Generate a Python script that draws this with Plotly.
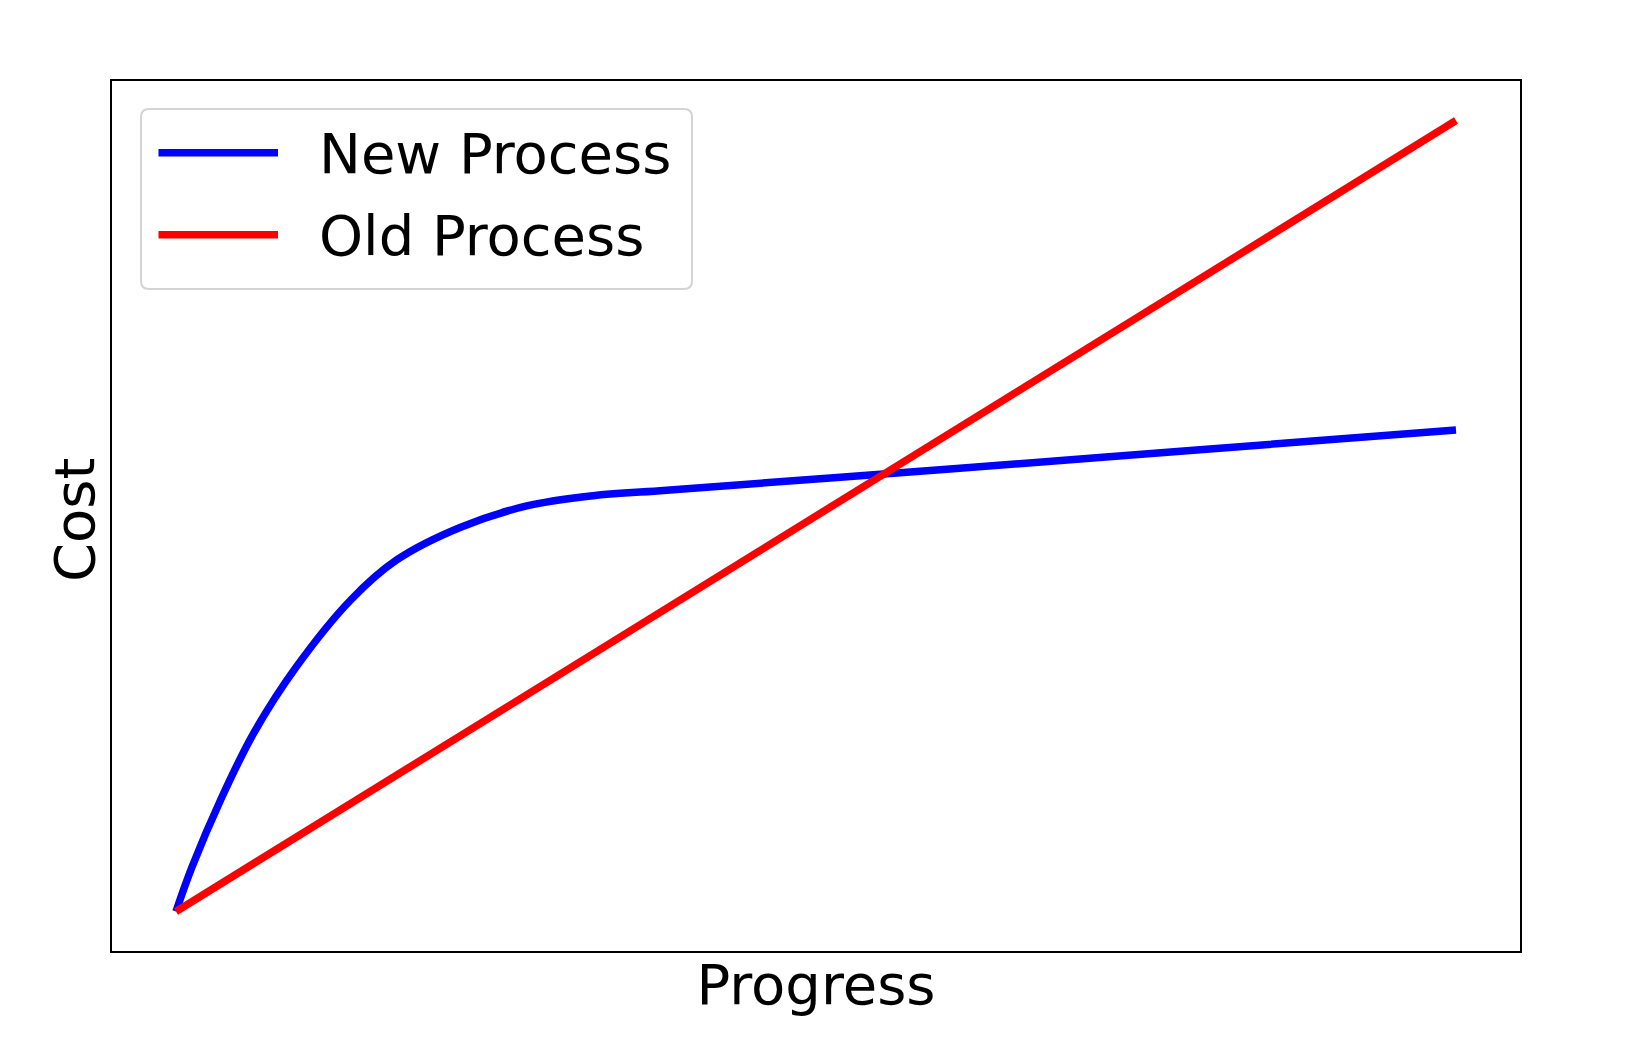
import plotly.graph_objects as go

# ---- data ----
progress_old = [0, 10]
cost_old = [0, 10]

progress_new = [0, 0.126, 0.350, 0.606, 0.941, 1.365, 1.724, 2.219, 2.740, 3.260,
                3.781, 6.047, 8.0, 10]
cost_new = [0, 0.566, 1.416, 2.252, 3.095, 3.938, 4.444, 4.855, 5.127, 5.257,
            5.320, 5.594, 5.838, 6.087]

series_names = ["New Process", "Old Process"]
series_colors = ["#0000ff", "#ff0000"]
x_title = "Progress"
y_title = "Cost"

# ---- layout constants (screen pixels; page body has an 8px margin) ----
OFF = 8
W, H = 1625 - OFF, 1050 - OFF
L, R, T, B = 112, 1520, 81, 951
FONT = "DejaVu Sans"
FS = 56
LW = 7.5


def pxx(x):
    return (x - L) / (R - L)


def pxy(y):
    return (B - y) / (B - T)


fig = go.Figure()
fig.add_trace(go.Scatter(x=progress_new, y=cost_new, mode="lines", name=series_names[0],
                         line=dict(color=series_colors[0], width=LW, shape="spline",
                                   smoothing=1.0, simplify=False),
                         showlegend=False))
fig.add_trace(go.Scatter(x=progress_old, y=cost_old, mode="lines", name=series_names[1],
                         line=dict(color=series_colors[1], width=LW, simplify=False),
                         showlegend=False))

# ---- custom legend (matplotlib style) ----
bx0, bx1, by0, by1, rad = 141, 692, 109, 289, 8


def P(x, y):
    return f"{pxx(x):.6f},{pxy(y):.6f}"


path = (f"M {P(bx0 + rad, by0)} L {P(bx1 - rad, by0)} Q {P(bx1, by0)} {P(bx1, by0 + rad)} "
        f"L {P(bx1, by1 - rad)} Q {P(bx1, by1)} {P(bx1 - rad, by1)} "
        f"L {P(bx0 + rad, by1)} Q {P(bx0, by1)} {P(bx0, by1 - rad)} "
        f"L {P(bx0, by0 + rad)} Q {P(bx0, by0)} {P(bx0 + rad, by0)} Z")
shapes = [dict(type="path", xref="paper", yref="paper", path=path,
               line=dict(color="#d4d4d4", width=2), fillcolor="rgba(255,255,255,0.8)", layer="above")]
annotations = []
row_y = [152.7, 234.7]
for name, col, yy in zip(series_names, series_colors, row_y):
    shapes.append(dict(type="line", xref="paper", yref="paper",
                       x0=pxx(158.5), x1=pxx(278), y0=pxy(yy), y1=pxy(yy),
                       line=dict(color=col, width=LW), layer="above"))
    annotations.append(dict(xref="paper", yref="paper", x=pxx(317), y=pxy(yy + 1),
                            xanchor="left", yanchor="middle", showarrow=False, text=name,
                            font=dict(family=FONT, size=FS, color="black")))

# y-axis title placed as a rotated annotation for exact positioning
annotations.append(dict(xref="paper", yref="paper", x=pxx(74), y=pxy(520),
                        xanchor="center", yanchor="middle", showarrow=False, text=y_title,
                        textangle=-90, font=dict(family=FONT, size=FS, color="black")))

fig.update_layout(
    width=W, height=H,
    margin=dict(l=L - OFF, r=W - (R - OFF), t=T - OFF, b=H - (B - OFF), pad=0),
    paper_bgcolor="white", plot_bgcolor="white",
    font=dict(family=FONT, size=FS, color="black"),
    shapes=shapes, annotations=annotations,
    showlegend=False,
)
fig.update_xaxes(range=[-0.5, 10.5], showgrid=False, zeroline=False, showticklabels=False,
                 ticks="", showline=True, mirror=True, linecolor="black", linewidth=2,
                 title=dict(text=x_title, standoff=13, font=dict(family=FONT, size=FS, color="black")))
fig.update_yaxes(range=[-0.5, 10.5], showgrid=False, zeroline=False, showticklabels=False,
                 ticks="", showline=True, mirror=True, linecolor="black", linewidth=2)

fig.write_html("out.html")
